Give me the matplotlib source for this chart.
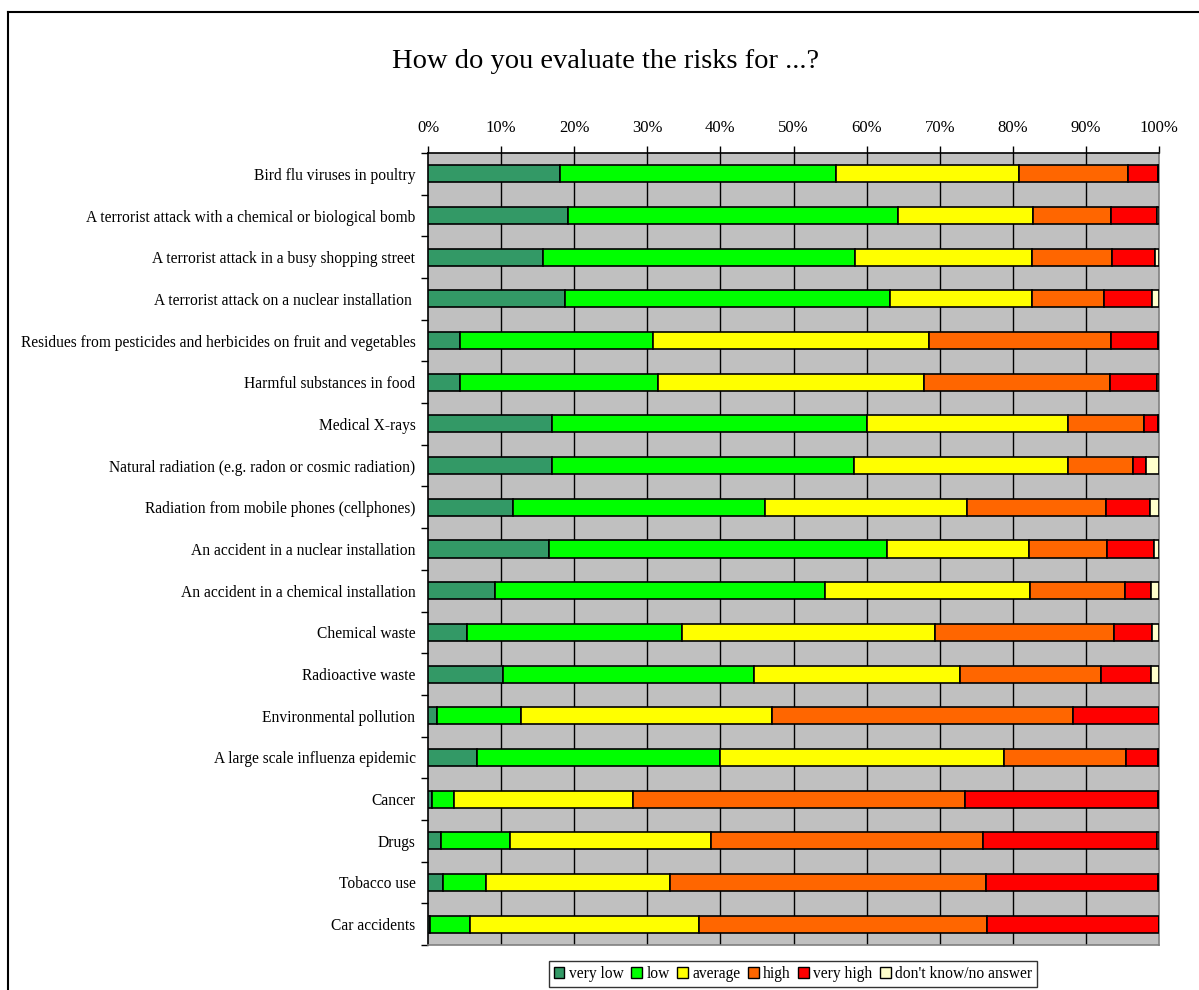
import numpy as np
import matplotlib
matplotlib.use("Agg")
import matplotlib.pyplot as plt
from matplotlib.patches import Patch
from matplotlib.lines import Line2D

plt.rcParams["font.family"] = ["Liberation Serif", "DejaVu Serif"]

categories = [
    "Bird flu viruses in poultry",
    "A terrorist attack with a chemical or biological bomb",
    "A terrorist attack in a busy shopping street",
    "A terrorist attack on a nuclear installation ",
    "Residues from pesticides and herbicides on fruit and vegetables",
    "Harmful substances in food",
    "Medical X-rays",
    "Natural radiation (e.g. radon or cosmic radiation)",
    "Radiation from mobile phones (cellphones)",
    "An accident in a nuclear installation",
    "An accident in a chemical installation",
    "Chemical waste",
    "Radioactive waste",
    "Environmental pollution",
    "A large scale influenza epidemic",
    "Cancer",
    "Drugs",
    "Tobacco use",
    "Car accidents",
]

very_low = [18.1, 19.2, 15.8, 18.7, 4.4, 4.4, 17.0, 17.0, 11.6, 16.5, 9.2, 5.3, 10.3, 1.2, 6.7, 0.5, 1.8, 2.0, 0.3]
low = [37.7, 45.1, 42.6, 44.5, 26.4, 27.0, 43.0, 41.3, 34.5, 46.3, 45.1, 29.4, 34.3, 11.5, 33.3, 3.0, 9.4, 6.0, 5.4]
average = [25.0, 18.4, 24.2, 19.4, 37.8, 36.5, 27.5, 29.2, 27.6, 19.4, 28.1, 34.7, 28.2, 34.3, 38.8, 24.6, 27.5, 25.1, 31.4]
high = [14.9, 10.8, 11.0, 9.9, 24.9, 25.4, 10.5, 8.9, 19.0, 10.7, 12.9, 24.4, 19.2, 41.3, 16.7, 45.4, 37.2, 43.2, 39.4]
very_high = [4.1, 6.2, 5.8, 6.6, 6.3, 6.4, 1.8, 1.8, 6.1, 6.4, 3.6, 5.3, 6.9, 11.7, 4.3, 26.3, 23.8, 23.5, 23.5]
dont_know = [0.2, 0.3, 0.6, 0.9, 0.2, 0.3, 0.2, 1.8, 1.2, 0.7, 1.1, 0.9, 1.1, 0.0, 0.2, 0.2, 0.3, 0.2, 0.0]

series_names = ["very low", "low", "average", "high", "very high", "don't know/no answer"]
colors = ["#339966", "#00FF00", "#FFFF00", "#FF6600", "#FF0000", "#FFFFCC"]

data = np.array([very_low, low, average, high, very_high, dont_know])
# normalise each row to 100 %
data = data / data.sum(axis=0) * 100

fig = plt.figure(figsize=(11.99, 9.9), dpi=100)
ax = fig.add_axes([428 / 1199, 1 - 945 / 990, (1159 - 428) / 1199, (945 - 153) / 990])

n = len(categories)
y = np.arange(n)
ax.set_facecolor("#C0C0C0")

# vertical gridlines
for gx in range(10, 100, 10):
    ax.axvline(gx, color="black", lw=1.0, zorder=1)

left = np.zeros(n)
for vals, name, col in zip(data, series_names, colors):
    ax.barh(y, vals, left=left, height=0.41, color=col, edgecolor="black",
            linewidth=1.2, label=name, zorder=3)
    left += vals

ax.set_xlim(0, 100)
ax.set_ylim(n - 0.5, -0.5)
ax.xaxis.tick_top()
ax.set_xticks(range(0, 101, 10))
ax.set_xticklabels([f"{v}%" for v in range(0, 101, 10)], fontsize=12)
ax.tick_params(axis="x", direction="out", length=5, width=1, pad=7)

ax.set_yticks(y)
ax.set_yticklabels(categories, fontsize=11.2)
ax.set_yticks(np.arange(-0.5, n, 1), minor=True)
ax.tick_params(axis="y", which="major", length=0, pad=9)
ax.tick_params(axis="y", which="minor", length=5, width=1, direction="out")

for side in ["left", "top"]:
    ax.spines[side].set_color("black")
    ax.spines[side].set_linewidth(1.2)
for side in ["right", "bottom"]:
    ax.spines[side].set_color("#808080")
    ax.spines[side].set_linewidth(1.2)

fig.text(606 / 1199, 1 - 61 / 990, "How do you evaluate the risks for ...?",
         ha="center", va="center", fontsize=20.5)

handles = [Patch(facecolor=c, edgecolor="black", linewidth=1) for c in colors]
leg = fig.legend(handles, series_names, loc="center", bbox_to_anchor=(793 / 1199, 1 - 974 / 990),
                 ncol=6, fontsize=11.2, frameon=True, fancybox=False, handlelength=0.7,
                 handleheight=0.7, handletextpad=0.3, columnspacing=0.45, borderpad=0.3)
leg.get_frame().set_edgecolor("black")
leg.get_frame().set_linewidth(1)

# outer chart border (left and top visible)
fig.add_artist(Line2D([8 / 1199, 8 / 1199], [0, 1 - 12 / 990], transform=fig.transFigure,
                      color="black", lw=1.5))
fig.add_artist(Line2D([8 / 1199, 1], [1 - 12 / 990, 1 - 12 / 990], transform=fig.transFigure,
                      color="black", lw=1.5))

fig.savefig("out.png", dpi=100)
